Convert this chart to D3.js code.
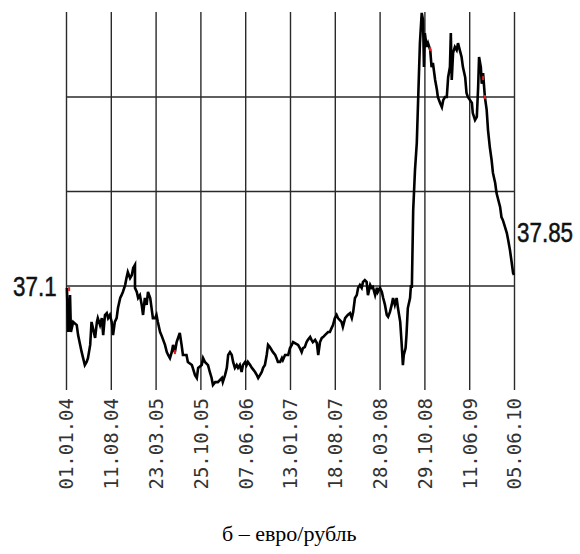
<!DOCTYPE html>
<html>
<head>
<meta charset="utf-8">
<script src="https://cdn.jsdelivr.net/npm/d3@7"></script>
<style>
  body { margin: 0; background: #fff; }
</style>
</head>
<body>
<div id="chart"></div>
<script>
// tick labels (evenly spaced along the x axis)
const tickLabels = ["01.01.04", "11.08.04", "23.03.05", "25.10.05", "07.06.06", "13.01.07",
  "18.08.07", "28.03.08", "29.10.08", "11.06.09", "05.06.10"];

// horizontal grid levels, rub per euro
const gridRates = [37.1, 40.1, 43.1];

// position (in tick intervals from the first label) and rate
const pos = [
  0.02,0.05,0.09,0.11,0.16,0.24,0.27,0.35,0.42,0.46,0.49,0.54,0.57,0.60,0.65,0.69,0.71,0.76,0.80,0.83,
  0.87,0.91,0.94,0.98,1.02,1.05,1.09,1.13,1.16,1.21,1.24,1.27,1.32,1.35,1.38,1.43,1.47,1.50,1.54,1.54,
  1.58,1.61,1.65,1.69,1.72,1.76,1.80,1.83,1.88,1.91,1.94,1.99,2.02,2.05,2.10,2.13,2.21,2.25,2.28,2.32,
  2.36,2.39,2.43,2.47,2.54,2.58,2.61,2.69,2.72,2.81,2.83,2.88,2.92,2.95,3.03,3.06,
  3.10,3.17,3.21,3.25,3.28,3.33,3.39,3.48,3.50,3.55,3.59,3.62,3.66,3.70,3.73,3.77,3.81,3.84,3.88,3.92,
  3.95,4.00,4.03,4.06,4.11,4.15,4.22,4.26,4.29,4.33,4.37,4.40,4.44,4.48,4.51,4.55,4.59,4.62,4.67,4.70,
  4.73,4.78,4.82,4.84,4.89,4.96,5.00,5.04,5.07,5.11,5.18,5.22,5.26,5.29,5.33,5.37,5.40,5.45,5.48,5.51,
  5.56,5.60,5.63,5.67,5.71,5.74,5.78,5.85,5.89,5.93,5.96,6.00,6.04,6.07,
  6.15,6.18,6.23,6.29,6.34,6.38,6.41,6.45,6.49,6.52,6.56,6.60,6.63,6.67,6.71,6.74,6.79,6.82,6.85,6.90,
  6.94,6.96,7.01,7.05,7.08,7.12,7.16,7.19,7.23,7.27,7.30,7.34,7.38,7.41,7.46,7.49,7.52,7.54,7.58,7.60,
  7.63,7.68,7.70,7.72,7.75,7.79,7.83,
  7.86,7.90,7.94,7.97,7.99,8.01,8.05,8.08,8.13,8.16,8.19,8.24,8.28,8.30,8.35,8.39,8.42,8.46,8.50,8.53,
  8.57,8.59,8.61,8.64,8.68,8.72,8.75,8.79,8.83,8.86,8.91,8.94,8.97,9.02,9.06,9.08,9.13,9.17,9.20,9.22,
  9.26,9.28,9.31,9.35,9.39,9.42,9.46,
  9.50,9.53,9.58,9.61,9.69,9.72,9.75,9.80,9.84,9.87,9.91,9.95,9.98,10.0
];
const rate = [
  37.04,35.64,36.81,35.64,35.96,35.86,35.54,35.00,34.59,34.69,34.81,35.23,35.96,35.77,35.45,35.96,36.08,35.86,36.08,35.54,
  36.18,36.24,36.08,36.18,35.96,35.54,35.96,36.08,36.40,36.72,36.81,36.91,37.13,37.35,37.54,37.35,37.45,37.67,37.77,37.04,
  36.91,36.72,36.81,36.50,36.18,36.72,36.50,36.91,36.72,36.40,36.08,36.08,36.18,35.96,35.64,35.54,35.23,35.00,34.91,34.81,
  35.00,35.23,35.00,35.32,35.61,35.23,34.91,34.91,34.69,34.59,34.50,34.27,34.18,34.50,34.59,34.81,
  34.69,34.59,34.37,34.18,33.96,34.05,34.05,34.18,34.05,34.27,34.50,34.91,35.00,34.91,34.69,34.50,34.59,34.50,34.59,34.37,
  34.59,34.69,34.59,34.69,34.59,34.50,34.37,34.27,34.18,34.27,34.37,34.50,34.59,34.91,35.23,35.16,35.07,35.00,34.91,34.81,
  34.69,34.69,34.81,34.75,34.91,34.91,35.13,35.23,35.32,35.29,35.23,35.13,35.00,35.13,35.16,35.32,35.39,35.48,35.39,35.32,
  35.39,35.29,34.91,35.32,35.45,35.48,35.54,35.64,35.64,35.77,35.86,36.08,36.18,36.08,
  35.96,35.80,36.08,36.18,36.24,36.08,36.27,36.72,36.81,37.04,37.13,37.04,37.23,37.29,37.23,36.81,37.13,37.04,37.07,36.81,
  37.04,36.91,37.04,36.91,36.72,36.50,36.18,36.12,36.27,36.50,36.72,36.50,36.72,36.40,35.96,35.32,34.59,34.91,35.13,35.54,
  36.40,36.72,37.13,37.04,39.51,40.78,41.64,
  43.00,44.81,45.77,45.54,44.05,45.13,44.69,44.81,44.59,44.05,44.18,43.64,43.32,43.10,42.91,42.78,43.00,43.10,43.10,43.73,
  44.05,45.13,43.64,44.50,44.69,44.59,44.81,44.59,44.37,44.05,43.73,43.23,43.10,43.00,42.91,42.59,42.37,42.47,43.42,44.37,
  44.05,43.52,43.86,43.10,42.69,42.05,41.51,
  41.10,40.69,40.37,40.05,39.61,39.29,39.20,38.97,38.78,38.56,38.24,37.83,37.51,37.45
];

// small red marks sitting on the line
const redPos = [0.07, 2.43, 8.13, 9.31, 9.35];
const redRate = [37.0, 35.0, 44.62, 43.7, 43.1];

const firstLabel = "37.1", lastLabel = "37.85";
const caption = "б – евро/рубль";

const W = 580, H = 554;
const plot = {left: 66, right: 514, top: 12, bottom: 390};

const svg = d3.select("#chart").append("svg")
  .attr("width", W).attr("height", H);

const x = d3.scaleLinear().domain([0, tickLabels.length - 1]).range([plot.left, plot.right]);
// 37.1 sits at y=286, 31.5 px per rouble
const y = d3.scaleLinear()
  .domain([37.1 - (plot.bottom - 286) / 31.5, 37.1 + (286 - plot.top) / 31.5])
  .range([plot.bottom, plot.top]);

// vertical grid + rotated date labels
const xAxis = svg.append("g")
  .attr("transform", `translate(0, ${plot.bottom})`)
  .call(d3.axisBottom(x)
    .tickValues(d3.range(tickLabels.length))
    .tickFormat(i => tickLabels[i])
    .tickSize(-(plot.bottom - plot.top)));
xAxis.select(".domain").remove();
xAxis.selectAll("line").attr("stroke", "#2a2a2a").attr("stroke-width", 1.4);
xAxis.selectAll("text")
  .attr("transform", "rotate(-90)")
  .attr("x", -8).attr("y", 0).attr("dy", "0.36em")
  .style("text-anchor", "end")
  .style("font-family", "'DejaVu Sans Mono', monospace")
  .style("font-size", "19px")
  .attr("fill", "#333");

// horizontal grid
svg.append("g").selectAll("line")
  .data(gridRates)
  .join("line")
    .attr("x1", plot.left).attr("x2", plot.right)
    .attr("y1", d => y(d)).attr("y2", d => y(d))
    .attr("stroke", "#2a2a2a").attr("stroke-width", 1.4);

// the rate line
const series = pos.map((p, i) => [p, rate[i]]);
svg.append("path")
  .datum(series)
  .attr("fill", "none")
  .attr("stroke", "#000")
  .attr("stroke-width", 2.6)
  .attr("stroke-linejoin", "miter")
  .attr("d", d3.line().x(d => x(d[0])).y(d => y(d[1])));

svg.append("g").selectAll("rect")
  .data(redPos.map((p, i) => [p, redRate[i]]))
  .join("rect")
    .attr("x", d => x(d[0]) - 1).attr("y", d => y(d[1]) - 2)
    .attr("width", 2).attr("height", 4)
    .attr("fill", "#e02020");

// value labels, condensed by a horizontal scale
function valueLabel(txt, tx, ty, sx) {
  svg.append("text")
    .attr("transform", `translate(${tx}, ${ty}) scale(${sx}, 1)`)
    .style("font-family", "'Liberation Sans', Arial, sans-serif")
    .style("font-size", "28px")
    .attr("fill", "#111")
    .attr("stroke", "#111").attr("stroke-width", 0.5)
    .text(txt);
}
valueLabel(firstLabel, 13, y(gridRates[0]) + 10, 0.8);
valueLabel(lastLabel, 517, 242, 0.8);

// caption
svg.append("text")
  .attr("x", 222).attr("y", 541)
  .style("font-family", "'Liberation Serif', 'Times New Roman', serif")
  .style("font-size", "22px")
  .attr("fill", "#000")
  .text(caption);
</script>
</body>
</html>
